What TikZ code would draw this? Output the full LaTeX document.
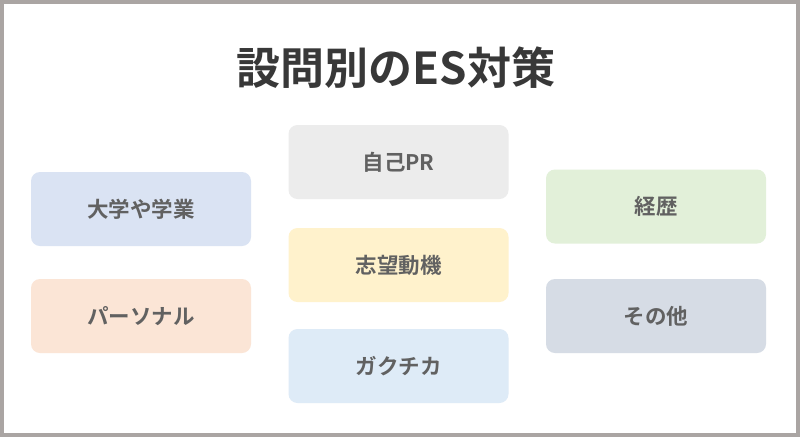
\documentclass[tikz,border=0pt]{standalone}
\usepackage{fontspec}
\setmainfont{Noto Sans CJK JP}[BoldFont={* Bold}]
\begin{document}
\begin{tikzpicture}[x=1pt,y=-1pt,
  card/.style={rounded corners=9pt,minimum width=220pt,minimum height=74pt,inner sep=0pt,font=\bfseries\fontsize{21.5}{24}\selectfont,text=black!62}]
\definecolor{frame}{HTML}{AAA5A3}
\definecolor{cgray}{HTML}{ECECEC}
\definecolor{cblue}{HTML}{DAE3F3}
\definecolor{cgreen}{HTML}{E2F0D9}
\definecolor{cyellow}{HTML}{FFF2CC}
\definecolor{corange}{HTML}{FBE5D6}
\definecolor{cslate}{HTML}{D6DCE5}
\definecolor{clight}{HTML}{DEEBF7}
\fill[frame] (0,0) rectangle (800,437);
\fill[white] (4,4) rectangle (796,433);
\useasboundingbox (0,0) rectangle (800,437);
\node[font=\bfseries\fontsize{44}{50}\selectfont,text=black!78] (title) at (396,68) {設問別のES対策};
\node[card,fill=cgray] (pr) at (398.5,162) {自己PR};
\node[card,fill=cblue] (univ) at (141,209) {大学や学業};
\node[card,fill=cgreen] (career) at (656,206.5) {経歴};
\node[card,fill=cyellow] (motive) at (398.5,265) {志望動機};
\node[card,fill=corange] (personal) at (141,316) {パーソナル};
\node[card,fill=cslate] (other) at (656,316) {その他};
\node[card,fill=clight] (gaku) at (398.5,366) {ガクチカ};
\end{tikzpicture}
\end{document}
